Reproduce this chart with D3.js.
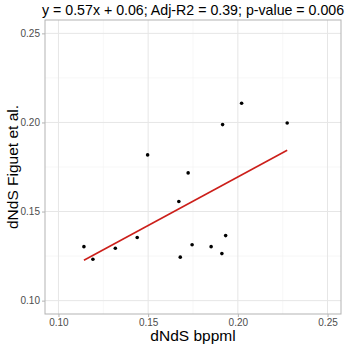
<!DOCTYPE html>
<html>
<head>
<meta charset="utf-8">
<script src="https://cdn.jsdelivr.net/npm/d3@7"></script>
<style>
  body { margin: 0; background: #fff; }
  svg { display: block; font-family: "Liberation Sans", Arial, sans-serif; }
</style>
</head>
<body>
<script>
// dN/dS estimates, one point per species
const dndsBppml = [0.1142, 0.1192, 0.1317, 0.1439, 0.1497, 0.1671, 0.1679, 0.1723,
                   0.1745, 0.1851, 0.1911, 0.1932, 0.1915, 0.2021, 0.2275];
const dndsFiguet = [0.1303, 0.1232, 0.1294, 0.1354, 0.1818, 0.1556, 0.1244, 0.1717,
                    0.1314, 0.1303, 0.1264, 0.1365, 0.1988, 0.2108, 0.1997];
const tickValues = [0.10, 0.15, 0.20, 0.25];
const minorValues = [0.125, 0.175, 0.225];
const title = 'y = 0.57x + 0.06; Adj-R2 = 0.39; p-value = 0.006';

const data = dndsBppml.map((x, i) => ({ x, y: dndsFiguet[i] }));

const width = 345;
const height = 345;
const margin = { top: 20, right: 4, bottom: 31, left: 45 };
const innerW = width - margin.left - margin.right;
const innerH = height - margin.top - margin.bottom;

// ggplot-style 5% expansion around 0.10 - 0.25
const x = d3.scaleLinear().domain([0.0925, 0.2575]).range([0, innerW]);
const y = d3.scaleLinear().domain([0.0925, 0.2575]).range([innerH, 0]);

const svg = d3.select('body').append('svg')
  .attr('width', width)
  .attr('height', height);

const g = svg.append('g')
  .attr('transform', `translate(${margin.left},${margin.top})`);

// grid
const grid = g.append('g');
grid.selectAll('line.minor-x').data(minorValues).join('line')
  .attr('x1', d => x(d)).attr('x2', d => x(d))
  .attr('y1', 0).attr('y2', innerH)
  .attr('stroke', '#f1f1f1').attr('stroke-width', 0.6);
grid.selectAll('line.minor-y').data(minorValues).join('line')
  .attr('y1', d => y(d)).attr('y2', d => y(d))
  .attr('x1', 0).attr('x2', innerW)
  .attr('stroke', '#f1f1f1').attr('stroke-width', 0.6);
grid.selectAll('line.major-x').data(tickValues).join('line')
  .attr('x1', d => x(d)).attr('x2', d => x(d))
  .attr('y1', 0).attr('y2', innerH)
  .attr('stroke', '#e6e6e6').attr('stroke-width', 1);
grid.selectAll('line.major-y').data(tickValues).join('line')
  .attr('y1', d => y(d)).attr('y2', d => y(d))
  .attr('x1', 0).attr('x2', innerW)
  .attr('stroke', '#e6e6e6').attr('stroke-width', 1);

// axes
const xAxis = d3.axisBottom(x).tickValues(tickValues).tickSize(3).tickPadding(2)
  .tickFormat(d3.format('.2f'));
const yAxis = d3.axisLeft(y).tickValues(tickValues).tickSize(3).tickPadding(2)
  .tickFormat(d3.format('.2f'));

const xg = g.append('g').attr('transform', `translate(0,${innerH})`).call(xAxis);
const yg = g.append('g').call(yAxis);
[xg, yg].forEach(a => {
  a.select('.domain').remove();
  a.selectAll('.tick line').attr('stroke', '#b3b3b3');
  a.selectAll('.tick text').attr('fill', '#4d4d4d').attr('font-size', 10)
    .attr('font-family', '"Liberation Sans", Arial, sans-serif');
});

// panel border
g.append('rect')
  .attr('width', innerW).attr('height', innerH)
  .attr('fill', 'none').attr('stroke', '#b3b3b3').attr('stroke-width', 1);

// least squares fit, drawn over the data range
const mx = d3.mean(data, d => d.x);
const my = d3.mean(data, d => d.y);
const slope = d3.sum(data, d => (d.x - mx) * (d.y - my)) / d3.sum(data, d => (d.x - mx) ** 2);
const intercept = my - slope * mx;
const xr = d3.extent(data, d => d.x);

g.append('path')
  .datum(xr.map(v => ({ x: v, y: intercept + slope * v })))
  .attr('fill', 'none')
  .attr('stroke', '#cc1f1a')
  .attr('stroke-width', 1.6)
  .attr('d', d3.line().x(d => x(d.x)).y(d => y(d.y)));

g.append('g').selectAll('circle').data(data).join('circle')
  .attr('cx', d => x(d.x))
  .attr('cy', d => y(d.y))
  .attr('r', 1.8)
  .attr('fill', '#000');

// labels
svg.append('text')
  .attr('x', 42).attr('y', 15)
  .attr('font-size', 14.2).attr('fill', '#000')
  .text(title);

svg.append('text')
  .attr('x', margin.left + innerW / 2).attr('y', 341)
  .attr('text-anchor', 'middle')
  .attr('font-size', 15.5).attr('fill', '#000')
  .text('dNdS bppml');

svg.append('text')
  .attr('transform', `translate(18,${margin.top + innerH / 2}) rotate(-90)`)
  .attr('text-anchor', 'middle')
  .attr('font-size', 15.5).attr('fill', '#000')
  .text('dNdS Figuet et al.');
</script>
</body>
</html>
